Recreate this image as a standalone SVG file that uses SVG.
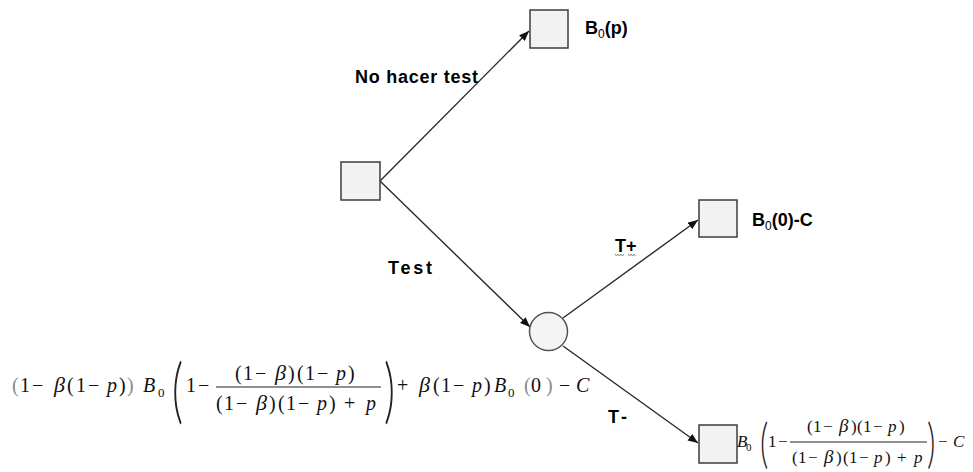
<svg xmlns="http://www.w3.org/2000/svg" width="973" height="472" viewBox="0 0 973 472">
  <style>
    .box { fill: #f2f2f2; stroke: #3c3c3c; stroke-width: 1.5; }
    .chance { fill: #f4f4f4; stroke: #555555; stroke-width: 1.5; }
    .edge { fill: none; stroke: #2a2a2a; stroke-width: 1.4; }
    .lbl { font-family: "Liberation Sans", Arial, sans-serif; font-weight: bold; font-size: 18px; fill: #000; }
    .sub { font-size: 12px; font-weight: normal; }
    .m { font-family: "Liberation Serif", "Times New Roman", serif; fill: #111; }
    .m1 { font-size: 20px; }
    .m2 { font-size: 17px; }
    .i { font-style: italic; }
    .g { fill: #8a8a8a; }
    .big { font-family: Lato, "Liberation Serif", serif; font-weight: 300; fill: #222; }
    .bar { stroke: #222; stroke-width: 1.1; }
    .squig { fill: none; stroke: #7a7a7a; stroke-width: 0.9; }
  </style>
  <defs>
    <marker id="arrow" markerUnits="userSpaceOnUse" markerWidth="11" markerHeight="9" refX="10" refY="4" orient="auto">
      <path d="M0,0 L10,4 L0,8 z" fill="#111"/>
    </marker>
  </defs>

  <!-- branches -->
  <g id="connectors">
    <line class="edge" x1="380" y1="181" x2="529" y2="31" marker-end="url(#arrow)"/>
    <line class="edge" x1="380" y1="181" x2="530" y2="327" marker-end="url(#arrow)"/>
    <line class="edge" x1="563" y1="318" x2="698" y2="220" marker-end="url(#arrow)"/>
    <line class="edge" x1="563" y1="346" x2="698" y2="443" marker-end="url(#arrow)"/>
  </g>

  <!-- branch labels -->
  <g id="edge-labels">
    <text class="lbl" x="355" y="83" textLength="123" lengthAdjust="spacing">No hacer test</text>
    <text class="lbl" x="388" y="274" textLength="44" lengthAdjust="spacing">Test</text>
    <text class="lbl" x="615" y="252" font-size="19">T+</text>
    <path class="squig" d="M615,254 l1.5,2 l1.5,-2 l1.5,2 l1.5,-2 l1.5,2 l1.5,-2"/>
    <path class="squig" d="M628,254 l1.5,2 l1.5,-2 l1.5,2 l1.5,-2 l1.5,2"/>
    <text class="lbl" x="608" y="423" textLength="19" lengthAdjust="spacing">T-</text>
  </g>

  <!-- decision: test or not -->
  <g id="root">
    <rect class="box" x="341" y="162" width="39" height="38"/>
  </g>

  <!-- no test outcome -->
  <g id="no-test">
    <rect class="box" x="530" y="10" width="38" height="38"/>
    <text class="lbl" x="585" y="34">B<tspan class="sub" dy="4">0</tspan><tspan dy="-4">(p)</tspan></text>
  </g>

  <!-- test result chance node -->
  <g id="test-result">
    <circle class="chance" cx="548.5" cy="331.5" r="19"/>
    <g class="m m1">
      <text x="12" y="392" class="g">(</text>
      <text x="20" y="392">1</text>
      <text x="32" y="392">−</text>
      <text x="54" y="392" class="i" font-size="22">β</text>
      <text x="67" y="392">(</text>
      <text x="76" y="392">1</text>
      <text x="88" y="392">−</text>
      <text x="107" y="392" class="i">p</text>
      <text x="119" y="392">)</text>
      <text x="127" y="392" class="g">)</text>
      <text x="143" y="392" class="i">B</text>
      <text x="158" y="397" font-size="13">0</text>
      <text class="big" transform="translate(172,415) scale(0.6,1)" font-size="71">(</text>
      <text x="186" y="392">1</text>
      <text x="198" y="392">−</text>
      <line class="bar" x1="216" y1="387" x2="381" y2="387"/>
      <!-- numerator -->
      <text x="235" y="380">(</text>
      <text x="243" y="380">1</text>
      <text x="255" y="380">−</text>
      <text x="275" y="380" class="i" font-size="22">β</text>
      <text x="288" y="380">)</text>
      <text x="297" y="380">(</text>
      <text x="305" y="380">1</text>
      <text x="317" y="380">−</text>
      <text x="336" y="380" class="i">p</text>
      <text x="348" y="380">)</text>
      <!-- denominator -->
      <text x="216" y="410">(</text>
      <text x="224" y="410">1</text>
      <text x="236" y="410">−</text>
      <text x="256" y="410" class="i" font-size="22">β</text>
      <text x="269" y="410">)</text>
      <text x="278" y="410">(</text>
      <text x="286" y="410">1</text>
      <text x="298" y="410">−</text>
      <text x="317" y="410" class="i">p</text>
      <text x="329" y="410">)</text>
      <text x="344" y="410">+</text>
      <text x="366" y="410" class="i">p</text>
      <text class="big" transform="translate(384,415) scale(0.6,1)" font-size="71">)</text>
      <text x="397" y="392">+</text>
      <text x="419" y="392" class="i" font-size="22">β</text>
      <text x="433" y="392">(</text>
      <text x="441" y="392">1</text>
      <text x="453" y="392">−</text>
      <text x="472" y="392" class="i">p</text>
      <text x="484" y="392">)</text>
      <text x="494" y="392" class="i">B</text>
      <text x="508" y="397" font-size="13">0</text>
      <text x="524" y="392" class="g">(</text>
      <text x="531" y="392">0</text>
      <text x="546" y="392" class="g">)</text>
      <text x="559" y="392">−</text>
      <text x="576" y="392" class="i">C</text>
    </g>
  </g>

  <!-- positive test outcome -->
  <g id="positive">
    <rect class="box" x="699" y="200" width="38" height="37"/>
    <text class="lbl" x="752" y="226">B<tspan class="sub" dy="4">0</tspan><tspan dy="-4">(0)-C</tspan></text>
  </g>

  <!-- negative test outcome -->
  <g id="negative">
    <rect class="box" x="699" y="425" width="38" height="38"/>
    <g class="m m2">
      <text x="737" y="447" class="i">B</text>
      <text x="746" y="451" font-size="11">0</text>
      <text class="big" transform="translate(760,462) scale(0.6,1)" font-size="54">(</text>
      <text x="768" y="447">1</text>
      <text x="778" y="447">−</text>
      <line class="bar" x1="790" y1="442" x2="927" y2="442"/>
      <!-- numerator -->
      <text x="807" y="432">(</text>
      <text x="813" y="432">1</text>
      <text x="823" y="432">−</text>
      <text x="839" y="432" class="i" font-size="19">β</text>
      <text x="851" y="432">)</text>
      <text x="857" y="432">(</text>
      <text x="863" y="432">1</text>
      <text x="873" y="432">−</text>
      <text x="888" y="432" class="i">p</text>
      <text x="899" y="432">)</text>
      <!-- denominator -->
      <text x="792" y="463">(</text>
      <text x="798" y="463">1</text>
      <text x="808" y="463">−</text>
      <text x="824" y="463" class="i" font-size="19">β</text>
      <text x="836" y="463">)</text>
      <text x="843" y="463">(</text>
      <text x="849" y="463">1</text>
      <text x="859" y="463">−</text>
      <text x="874" y="463" class="i">p</text>
      <text x="885" y="463">)</text>
      <text x="897" y="463">+</text>
      <text x="914" y="463" class="i">p</text>
      <text class="big" transform="translate(927,462) scale(0.6,1)" font-size="54">)</text>
      <text x="938" y="447">−</text>
      <text x="953" y="447" class="i">C</text>
    </g>
  </g>
</svg>
